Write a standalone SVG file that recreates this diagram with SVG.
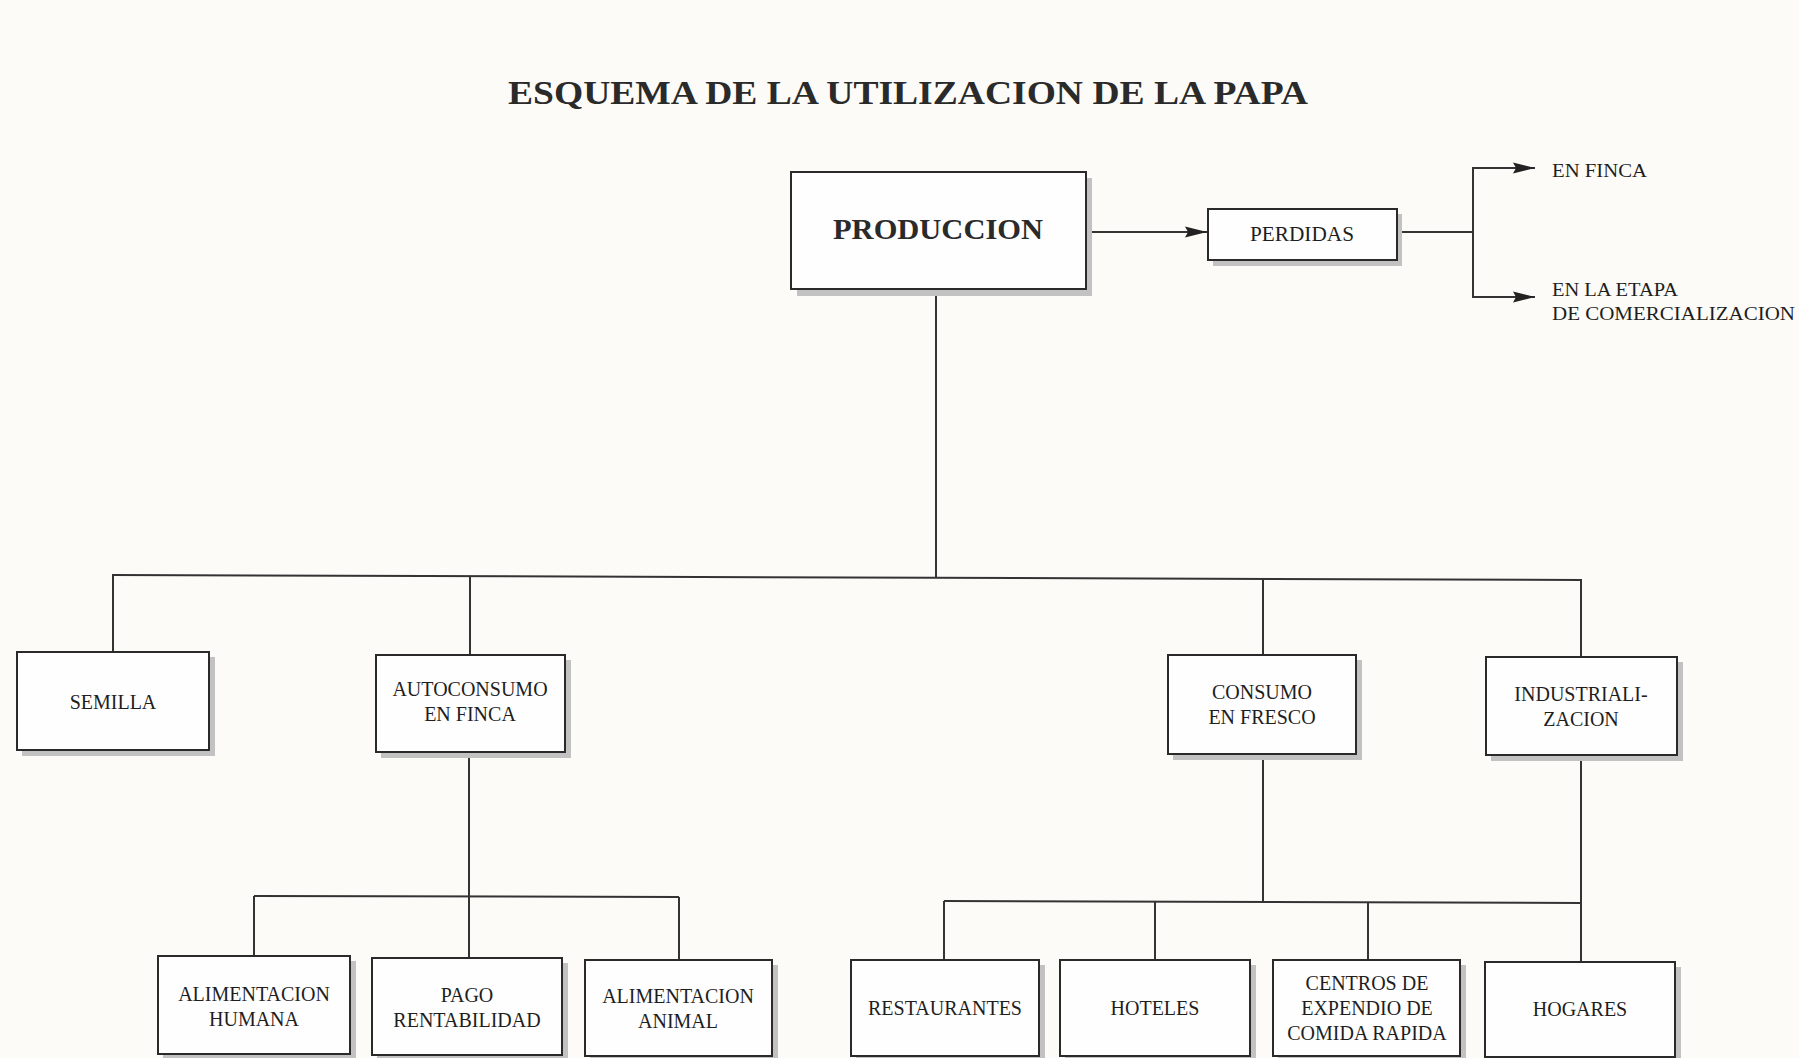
<svg xmlns="http://www.w3.org/2000/svg" width="1799" height="1058" viewBox="0 0 1799 1058">
<defs>
<style>
.bg{fill:#fcfbf8}
.box{fill:#fefefe;stroke:#2a2a2a;stroke-width:2}
.sh{fill:#c2c2c2}
.t{font-family:"Liberation Serif","Times New Roman",serif;font-size:20px;fill:#1e1e1e;text-anchor:middle}
.l{font-family:"Liberation Serif","Times New Roman",serif;font-size:19px;fill:#1e1e1e}
.title{font-family:"Liberation Serif","Times New Roman",serif;font-size:34px;font-weight:bold;fill:#2a2a2a;text-anchor:middle}
.big{font-family:"Liberation Serif","Times New Roman",serif;font-size:30px;font-weight:bold;fill:#2a2a2a;text-anchor:middle}
.c{fill:none;stroke:#333;stroke-width:2}
</style>
<marker id="ah2" viewBox="0 0 22 12" refX="22" refY="6" markerWidth="22" markerHeight="12" markerUnits="userSpaceOnUse" orient="auto">
<path d="M0,0.5 L22,6 L0,11.5 L3,6 Z" fill="#222"/>
</marker>
</defs>
<rect class="bg" x="0" y="0" width="1799" height="1058"/>
<text class="title" x="908" y="104" textLength="800" lengthAdjust="spacingAndGlyphs">ESQUEMA DE LA UTILIZACION DE LA PAPA</text>

<g id="connectors">
<line class="c" x1="1086" y1="232" x2="1207" y2="232" marker-end="url(#ah2)"/>
<line class="c" x1="1397" y1="232" x2="1473" y2="232"/>
<line class="c" x1="1473" y1="168" x2="1473" y2="297"/>
<line class="c" x1="1472" y1="168" x2="1535" y2="168" marker-end="url(#ah2)"/>
<line class="c" x1="1472" y1="297" x2="1535" y2="297" marker-end="url(#ah2)"/>
<line class="c" x1="936" y1="289" x2="936" y2="577"/>
<line class="c" x1="112" y1="575" x2="1582" y2="580"/>
<line class="c" x1="113" y1="575" x2="113" y2="652"/>
<line class="c" x1="470" y1="576" x2="470" y2="655"/>
<line class="c" x1="1263" y1="578" x2="1263" y2="655"/>
<line class="c" x1="1581" y1="580" x2="1581" y2="657"/>
<line class="c" x1="469" y1="752" x2="469" y2="958"/>
<line class="c" x1="254" y1="896" x2="679" y2="897"/>
<line class="c" x1="254" y1="896" x2="254" y2="956"/>
<line class="c" x1="679" y1="897" x2="679" y2="960"/>
<line class="c" x1="1263" y1="754" x2="1263" y2="901"/>
<line class="c" x1="1581" y1="755" x2="1581" y2="962"/>
<line class="c" x1="944" y1="901" x2="1581" y2="903"/>
<line class="c" x1="944" y1="901" x2="944" y2="960"/>
<line class="c" x1="1155" y1="902" x2="1155" y2="960"/>
<line class="c" x1="1368" y1="902" x2="1368" y2="960"/>
</g>

<g id="produccion">
<rect class="sh" x="797" y="178" width="295" height="118"/>
<rect class="box" x="791" y="172" width="295" height="117"/>
<text class="big" x="938" y="239" textLength="210" lengthAdjust="spacingAndGlyphs">PRODUCCION</text>
</g>
<g id="perdidas">
<rect class="sh" x="1213" y="214" width="189" height="52"/>
<rect class="box" x="1208" y="209" width="189" height="51"/>
<text class="t" x="1302" y="241" textLength="104" lengthAdjust="spacingAndGlyphs">PERDIDAS</text>
</g>
<g id="en-finca">
<text class="l" x="1552" y="177" textLength="95" lengthAdjust="spacingAndGlyphs">EN FINCA</text>
</g>
<g id="en-la-etapa">
<text class="l" x="1552" y="296" textLength="126" lengthAdjust="spacingAndGlyphs">EN LA ETAPA</text>
<text class="l" x="1552" y="320" textLength="243" lengthAdjust="spacingAndGlyphs">DE COMERCIALIZACION</text>
</g>

<g id="semilla">
<rect class="sh" x="22" y="657" width="193" height="99"/>
<rect class="box" x="17" y="652" width="192" height="98"/>
<text class="t" x="113" y="709">SEMILLA</text>
</g>
<g id="autoconsumo">
<rect class="sh" x="381" y="660" width="190" height="98"/>
<rect class="box" x="376" y="655" width="189" height="97"/>
<text class="t" x="470" y="696">AUTOCONSUMO</text>
<text class="t" x="470" y="721">EN FINCA</text>
</g>
<g id="consumo-fresco">
<rect class="sh" x="1173" y="660" width="189" height="100"/>
<rect class="box" x="1168" y="655" width="188" height="99"/>
<text class="t" x="1262" y="699">CONSUMO</text>
<text class="t" x="1262" y="724">EN FRESCO</text>
</g>
<g id="industrializacion">
<rect class="sh" x="1491" y="662" width="192" height="99"/>
<rect class="box" x="1486" y="657" width="191" height="98"/>
<text class="t" x="1581" y="701">INDUSTRIALI-</text>
<text class="t" x="1581" y="726">ZACION</text>
</g>

<g id="alimentacion-humana">
<rect class="sh" x="163" y="961" width="193" height="100"/>
<rect class="box" x="158" y="956" width="192" height="98"/>
<text class="t" x="254" y="1001">ALIMENTACION</text>
<text class="t" x="254" y="1026">HUMANA</text>
</g>
<g id="pago-rentabilidad">
<rect class="sh" x="377" y="963" width="191" height="100"/>
<rect class="box" x="372" y="958" width="190" height="97"/>
<text class="t" x="467" y="1002">PAGO</text>
<text class="t" x="467" y="1027">RENTABILIDAD</text>
</g>
<g id="alimentacion-animal">
<rect class="sh" x="590" y="965" width="188" height="100"/>
<rect class="box" x="585" y="960" width="187" height="96"/>
<text class="t" x="678" y="1003">ALIMENTACION</text>
<text class="t" x="678" y="1028">ANIMAL</text>
</g>
<g id="restaurantes">
<rect class="sh" x="856" y="965" width="189" height="100"/>
<rect class="box" x="851" y="960" width="188" height="96"/>
<text class="t" x="945" y="1015">RESTAURANTES</text>
</g>
<g id="hoteles">
<rect class="sh" x="1065" y="965" width="191" height="100"/>
<rect class="box" x="1060" y="960" width="190" height="96"/>
<text class="t" x="1155" y="1015">HOTELES</text>
</g>
<g id="centros">
<rect class="sh" x="1278" y="965" width="188" height="100"/>
<rect class="box" x="1273" y="960" width="187" height="96"/>
<text class="t" x="1367" y="990">CENTROS DE</text>
<text class="t" x="1367" y="1015">EXPENDIO DE</text>
<text class="t" x="1367" y="1040">COMIDA RAPIDA</text>
</g>
<g id="hogares">
<rect class="sh" x="1490" y="967" width="191" height="100"/>
<rect class="box" x="1485" y="962" width="190" height="95"/>
<text class="t" x="1580" y="1016">HOGARES</text>
</g>
</svg>
